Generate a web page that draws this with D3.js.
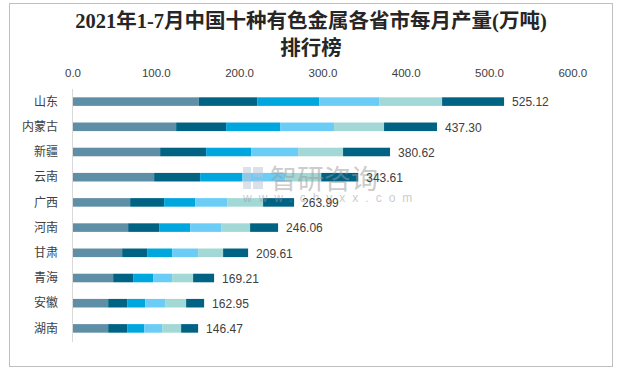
<!DOCTYPE html>
<html>
<head>
<meta charset="utf-8">
<script src="https://cdn.jsdelivr.net/npm/d3@7"></script>
<style>
  body { margin: 0; background: #fff; }
  svg { display: block; }
</style>
</head>
<body>
<svg id="chart"></svg>
<script>
// provinces, top to bottom
var provinces = ["山东", "内蒙古", "新疆", "云南", "广西", "河南", "甘肃", "青海", "安徽", "湖南"];
// monthly output (万吨)
var months = ["1-2月", "3月", "4月", "5月", "6月", "7月"];
var m12 = [151.7, 124.4, 105.2, 98.0, 69.2, 66.8, 59.6, 48.8, 42.8, 42.8];
var m3 = [70.0, 60.0, 55.2, 55.2, 40.8, 37.2, 30.0, 24.0, 22.8, 22.8];
var m4 = [74.4, 64.8, 54.0, 50.4, 37.2, 37.2, 30.0, 24.0, 21.6, 20.4];
var m5 = [72.0, 64.8, 56.4, 52.0, 38.4, 37.2, 31.2, 22.8, 24.0, 21.6];
var m6 = [75.6, 60.0, 54.0, 43.0, 43.2, 34.8, 30.0, 25.2, 25.2, 22.8];
var m7 = [74.4, 63.6, 56.4, 44.4, 37.2, 33.6, 30.0, 25.2, 21.6, 20.4];
// totals printed at bar ends
var totals = [525.12, 437.30, 380.62, 343.61, 263.99, 246.06, 209.61, 169.21, 162.95, 146.47];
var xTicks = [0, 100, 200, 300, 400, 500, 600];

var colors = ["#5f8fa6", "#006384", "#00a6de", "#6bcdf5", "#a2d8d5", "#006384"];

const WIDTH = 622;
const HEIGHT = 370;

var svg = d3.select("#chart").attr("width", WIDTH).attr("height", HEIGHT);

// outer frame
svg.append("rect")
  .attr("x", 9.5).attr("y", 3.5)
  .attr("width", 603).attr("height", 363)
  .attr("fill", "#fff")
  .attr("stroke", "#bfbfbf");

// title
var title = svg.append("text")
  .attr("text-anchor", "middle")
  .attr("font-family", "'Liberation Serif', 'Noto Sans CJK SC', serif")
  .attr("font-weight", "bold")
  .attr("font-size", 20.5)
  .attr("fill", "#262626");
title.append("tspan").attr("x", 311).attr("y", 28).text("2021年1-7月中国十种有色金属各省市每月产量(万吨)");
title.append("tspan").attr("x", 311).attr("y", 55).text("排行榜");

// rows as objects for the stack
var rows = provinces.map(function (p, i) {
  return { name: p, "1-2月": m12[i], "3月": m3[i], "4月": m4[i], "5月": m5[i], "6月": m6[i], "7月": m7[i], total: totals[i] };
});

var stack = d3.stack().keys(months);
var series = stack(rows);

var x = d3.scaleLinear().domain([0, 600]).range([72.5, 572.3]);
var y = d3.scaleBand().domain(provinces).range([89, 341]).paddingInner(0.66).paddingOuter(0.33);

// top axis labels
svg.append("g")
  .attr("transform", "translate(0,77)")
  .call(d3.axisTop(x).tickValues(xTicks).tickFormat(d3.format(".1f")).tickSize(0).tickPadding(0))
  .call(function (g) { g.select(".domain").remove(); })
  .selectAll("text")
  .attr("font-family", "'Liberation Sans', 'DejaVu Sans', sans-serif")
  .attr("font-size", 11.5)
  .attr("fill", "#404040");

// bars
svg.append("g")
  .selectAll("g")
  .data(series)
  .enter()
  .append("g")
  .attr("fill", function (d, i) { return colors[i]; })
  .selectAll("rect")
  .data(function (d) { return d; })
  .enter()
  .append("rect")
  .attr("x", function (d) { return x(d[0]); })
  .attr("y", function (d) { return y(d.data.name); })
  .attr("width", function (d) { return x(d[1]) - x(d[0]); })
  .attr("height", y.bandwidth());

// watermark (sits over the bars, under the labels)
var wm = svg.append("g").attr("opacity", 0.5);
wm.append("rect").attr("x", 243).attr("y", 167).attr("width", 8).attr("height", 22).attr("fill", "#b8c4d8");
wm.append("rect").attr("x", 253).attr("y", 167).attr("width", 10).attr("height", 10).attr("fill", "#b8c4d8");
wm.append("rect").attr("x", 253).attr("y", 180).attr("width", 10).attr("height", 9).attr("fill", "#b8c4d8");
wm.append("text")
  .attr("x", 270).attr("y", 189)
  .attr("font-family", "'Noto Sans CJK SC', sans-serif")
  .attr("font-size", 27)
  .attr("fill", "#9a9a9a")
  .text("智研咨询");
wm.append("text")
  .attr("x", 243).attr("y", 202)
  .attr("font-family", "'Liberation Sans', sans-serif")
  .attr("font-size", 12)
  .style("letter-spacing", "7px")
  .attr("fill", "#9a9a9a")
  .text("www.chyxx.com");

// vertical axis line
svg.append("line")
  .attr("x1", 72.5).attr("x2", 72.5)
  .attr("y1", 89).attr("y2", 342)
  .attr("stroke", "#d9d9d9");

// category labels
svg.append("g")
  .selectAll("text")
  .data(provinces)
  .enter()
  .append("text")
  .attr("x", 58)
  .attr("y", function (d) { return y(d) + y.bandwidth() / 2; })
  .attr("dy", "0.35em")
  .attr("text-anchor", "end")
  .attr("font-family", "'Noto Sans CJK SC', sans-serif")
  .attr("font-size", 12)
  .attr("fill", "#404040")
  .text(function (d) { return d; });

// total labels
var last = series[series.length - 1];
svg.append("g")
  .selectAll("text")
  .data(last)
  .enter()
  .append("text")
  .attr("x", function (d) { return x(d[1]) + 8; })
  .attr("y", function (d) { return y(d.data.name) + y.bandwidth() / 2; })
  .attr("dy", "0.4em")
  .attr("font-family", "'Liberation Sans', 'DejaVu Sans', sans-serif")
  .attr("font-size", 12)
  .attr("fill", "#404040")
  .text(function (d) { return d.data.total.toFixed(2); });
</script>
</body>
</html>
